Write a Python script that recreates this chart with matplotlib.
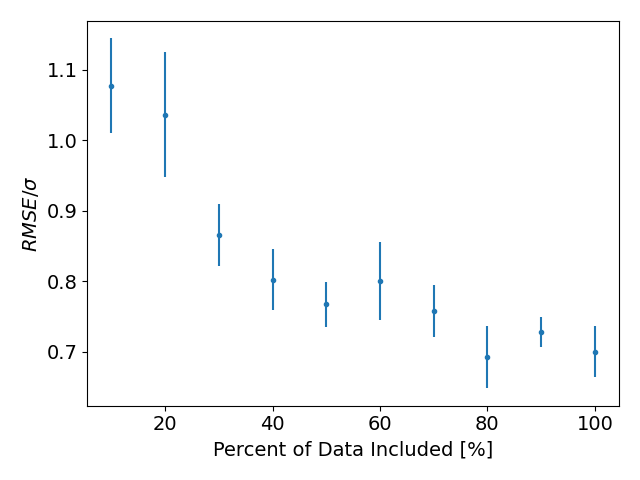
import matplotlib
matplotlib.use("Agg")
import matplotlib.pyplot as plt

percent = [10, 20, 30, 40, 50, 60, 70, 80, 90, 100]
rmse_ratio = [1.077, 1.036, 0.865, 0.802, 0.767, 0.800, 0.757, 0.692, 0.728, 0.700]
rmse_err = [0.067, 0.089, 0.044, 0.043, 0.032, 0.055, 0.037, 0.044, 0.0215, 0.036]

plt.rcParams["font.size"] = 14

fig, ax = plt.subplots(figsize=(6.4, 4.8), dpi=100)
ax.errorbar(percent, rmse_ratio, yerr=rmse_err, fmt=".")
ax.set_xlabel("Percent of Data Included [%]")
ax.set_ylabel(r"$RMSE/\sigma$")
fig.tight_layout()
fig.savefig("out.png", dpi=100)
